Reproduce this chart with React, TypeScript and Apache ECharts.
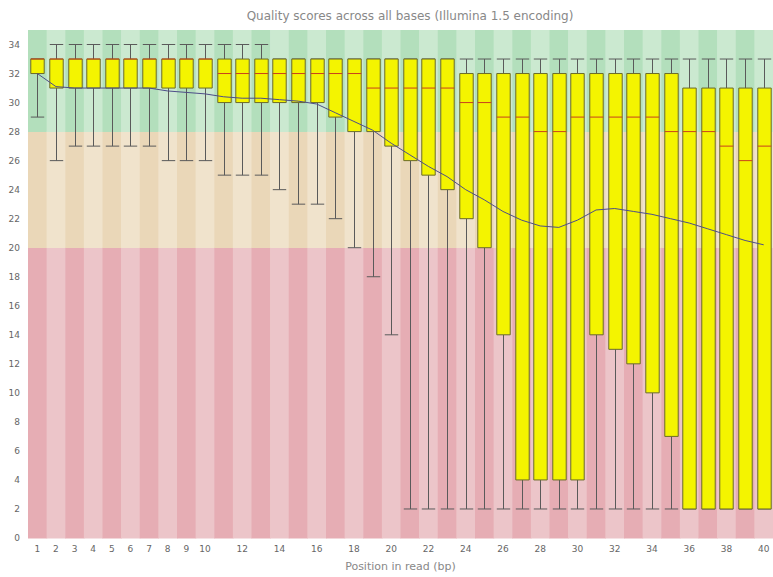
import React, { useEffect, useRef } from 'react';
import * as echarts from 'echarts';

const positions = ['1','2','3','4','5','6','7','8','9','10','11','12','13','14','15','16','17','18','19','20','21','22','23','24','25','26','27','28','29','30','31','32','33','34','35','36','37','38','39','40'];
const shownLabels = ['1','2','3','4','5','6','7','8','9','10','12','14','16','18','20','22','24','26','28','30','32','34','36','38','40'];

const lowerWhisker = [29,26,27,27,27,27,27,26,26,26,25,25,25,24,23,23,22,20,18,14,2,2,2,2,2,2,2,2,2,2,2,2,2,2,2,2,2,2,2,2];
const lowerQuartile = [32,31,31,31,31,31,31,31,31,31,30,30,30,30,30,30,29,28,28,27,26,25,24,22,20,14,4,4,4,4,14,13,12,10,7,2,2,2,2,2];
const medians = [33,33,33,33,33,33,33,33,33,33,32,32,32,32,32,32,32,32,31,31,31,31,31,30,30,29,29,28,28,29,29,29,29,29,28,28,28,27,26,27];
const upperQuartile = [33,33,33,33,33,33,33,33,33,33,33,33,33,33,33,33,33,33,33,33,33,33,33,32,32,32,32,32,32,32,32,32,32,32,32,31,31,31,31,31];
const upperWhisker = [33,34,34,34,34,34,34,34,34,34,34,34,34,33,33,33,33,33,33,33,33,33,33,33,33,33,33,33,33,33,33,33,33,33,33,33,33,33,33,33];
const means = [32.0,31.1,31.0,31.0,31.0,31.0,31.0,30.8,30.7,30.6,30.4,30.3,30.3,30.2,30.1,29.9,29.3,28.7,28.1,27.2,26.4,25.6,24.9,24.0,23.3,22.5,21.9,21.5,21.4,21.9,22.6,22.7,22.5,22.3,22.0,21.7,21.3,20.9,20.5,20.2];

const bandEdges = [0, 20, 28, 35];
const bandDark = ['#e6adb4', '#ead7b8', '#b3dfbc'];
const bandLight = ['#ecc5c9', '#f0e3cc', '#cbe9d0'];

export default function App() {
  const ref = useRef<HTMLDivElement>(null);
  useEffect(() => {
    if (!ref.current) return;
    const chart = echarts.init(ref.current, null, { renderer: 'svg' });
    const boxData = positions.map((_, i) => [i, lowerWhisker[i], lowerQuartile[i], medians[i], upperQuartile[i], upperWhisker[i]]);
    const bgData = positions.map((_, i) => [i]);
    chart.setOption({
      animation: false,
      backgroundColor: '#ffffff',
      title: {
        text: 'Quality scores across all bases (Illumina 1.5 encoding)',
        left: 405,
        textAlign: 'center',
        top: 5,
        textStyle: { fontSize: 12, fontWeight: 'normal', color: '#888', fontFamily: 'DejaVu Sans' },
      },
      grid: { left: 28, right: 0, top: 30, bottom: 37 },
      xAxis: {
        type: 'category',
        data: positions,
        boundaryGap: true,
        name: 'Position in read (bp)',
        nameLocation: 'middle',
        nameGap: 23,
        nameTextStyle: { fontSize: 11, color: '#888', fontFamily: 'DejaVu Sans' },
        axisLine: { show: false },
        axisTick: { show: false },
        splitLine: { show: false },
        axisLabel: {
          interval: (index: number, value: string) => shownLabels.includes(value),
          fontSize: 9,
          color: '#666',
          margin: 6,
          fontFamily: 'DejaVu Sans',
        },
      },
      yAxis: {
        type: 'value',
        min: 0,
        max: 35,
        interval: 2,
        axisLine: { show: false },
        axisTick: { show: false },
        splitLine: { show: false },
        axisLabel: {
          showMaxLabel: false,
          fontSize: 9,
          color: '#666',
          margin: 8,
          fontFamily: 'DejaVu Sans',
        },
      },
      series: [
        {
          type: 'custom',
          z: 0,
          silent: true,
          data: bgData,
          encode: { x: 0 },
          renderItem: (params: any, api: any) => {
            const idx = api.value(0);
            const cx = api.coord([idx, 0])[0];
            const w = api.size([1, 0])[0];
            const children: any[] = [];
            for (let b = 0; b < bandEdges.length - 1; b++) {
              const yTop = api.coord([idx, bandEdges[b + 1]])[1];
              const yBot = api.coord([idx, bandEdges[b]])[1];
              children.push({
                type: 'rect',
                shape: { x: cx - w / 2, y: yTop, width: w + 0.6, height: yBot - yTop + 0.4 },
                style: { fill: idx % 2 === 0 ? bandDark[b] : bandLight[b] },
              });
            }
            return { type: 'group', children };
          },
        },
        {
          type: 'custom',
          z: 2,
          data: boxData,
          encode: { x: 0, y: [1, 2, 3, 4, 5] },
          renderItem: (params: any, api: any) => {
            const idx = api.value(0);
            const low = api.coord([idx, api.value(1)]);
            const q1 = api.coord([idx, api.value(2)]);
            const med = api.coord([idx, api.value(3)]);
            const q3 = api.coord([idx, api.value(4)]);
            const high = api.coord([idx, api.value(5)]);
            const cx = Math.round(low[0]) + 0.5;
            const w = api.size([1, 0])[0] * 0.72;
            const half = w / 2;
            const wStyle = { stroke: '#5a5a5a', lineWidth: 1 };
            const children: any[] = [];
            children.push({ type: 'line', shape: { x1: cx, y1: low[1], x2: cx, y2: q1[1] }, style: wStyle });
            children.push({ type: 'line', shape: { x1: cx, y1: q3[1], x2: cx, y2: high[1] }, style: wStyle });
            children.push({ type: 'line', shape: { x1: cx - half, y1: low[1], x2: cx + half, y2: low[1] }, style: wStyle });
            children.push({ type: 'line', shape: { x1: cx - half, y1: high[1], x2: cx + half, y2: high[1] }, style: wStyle });
            children.push({
              type: 'rect',
              shape: { x: cx - half, y: q3[1], width: w, height: q1[1] - q3[1] },
              style: { fill: '#f4f400', stroke: '#6b6b2a', lineWidth: 1 },
            });
            children.push({ type: 'line', shape: { x1: cx - half, y1: med[1], x2: cx + half, y2: med[1] }, style: { stroke: '#c8401c', lineWidth: 1 } });
            return { type: 'group', children };
          },
        },
        {
          type: 'line',
          z: 3,
          data: means,
          symbol: 'none',
          silent: true,
          lineStyle: { color: '#4d4d88', width: 1 },
        },
      ],
    });
    return () => chart.dispose();
  }, []);
  return <div ref={ref} style={{ position: 'fixed', left: 0, top: 0, width: 773, height: 577 }} />;
}
